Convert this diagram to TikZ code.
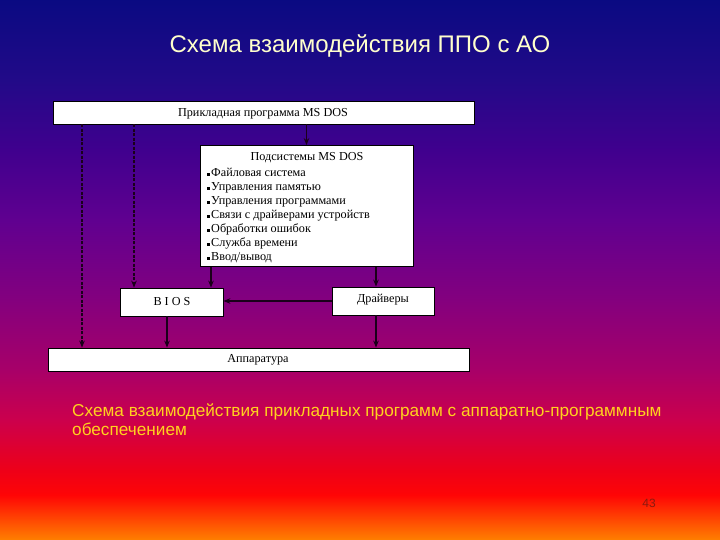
\documentclass[tikz,border=0pt]{standalone}
\usepackage{fontspec}
\setmainfont{Liberation Serif}
\newfontfamily\arialf{Liberation Sans}
\usetikzlibrary{arrows.meta}
\definecolor{c0}{HTML}{0A0A82}
\definecolor{c1}{HTML}{220A88}
\definecolor{c2}{HTML}{40008E}
\definecolor{c3}{HTML}{600090}
\definecolor{c4}{HTML}{84007E}
\definecolor{c5}{HTML}{A80068}
\definecolor{c6}{HTML}{CC004C}
\definecolor{c7}{HTML}{EE0018}
\definecolor{c8}{HTML}{FF0505}
\definecolor{c9}{HTML}{FF8200}
\definecolor{titlecol}{HTML}{FFFFCC}
\definecolor{capcol}{HTML}{FFD21E}
\definecolor{numcol}{HTML}{8A1A10}
\definecolor{linecol}{HTML}{1A001A}
\tikzset{
  box/.style={draw=black, line width=0.8pt, fill=white, inner sep=0pt},
  boxtext/.style={font=\fontsize{12.2}{14}\selectfont, inner sep=0pt},
  arr/.style={draw=linecol, line width=1.4pt, -{Stealth[length=7pt,width=5.5pt]}},
  darr/.style={arr, dash pattern=on 3pt off 1.5pt}
}
\newcommand{\sqb}{\rule[0.5pt]{2.8pt}{2.8pt}\hspace{1.2pt}}
\begin{document}
\begin{tikzpicture}[x=1pt,y=-1pt]
\useasboundingbox (0,0) rectangle (720,540);
% background
\shade[top color=c0,bottom color=c1] (0,-1) rectangle (720,81);
\shade[top color=c1,bottom color=c2] (0,80) rectangle (720,151);
\shade[top color=c2,bottom color=c3] (0,150) rectangle (720,221);
\shade[top color=c3,bottom color=c4] (0,220) rectangle (720,301);
\shade[top color=c4,bottom color=c5] (0,300) rectangle (720,371);
\shade[top color=c5,bottom color=c6] (0,370) rectangle (720,421);
\shade[top color=c6,bottom color=c7] (0,420) rectangle (720,471);
\shade[top color=c7,bottom color=c8] (0,470) rectangle (720,496);
\shade[top color=c8,bottom color=c9] (0,495) rectangle (720,541);
% title
\node[text=titlecol, font=\arialf\fontsize{24}{28}\selectfont] (title) at (360,46) {Схема взаимодействия ППО с АО};
% boxes
\node[box, minimum width=421pt, minimum height=23pt] (top) at (263.5,112.5) {};
\node[boxtext] (toptext) at (263,113.5) {Прикладная программа MS DOS};
\node[box, minimum width=213pt, minimum height=121pt] (sub) at (306.5,206) {};
\node[boxtext] (subtitle) at (307,158) {Подсистемы MS DOS};
\node[boxtext, anchor=north west, align=left] (sublist) at (207,167.5) {%
\sqb Файловая система\\
\sqb Управления памятью\\
\sqb Управления программами\\
\sqb Связи с драйверами устройств\\
\sqb Обработки ошибок\\
\sqb Служба времени\\
\sqb Ввод/вывод};
\node[box, minimum width=103pt, minimum height=28pt] (bios) at (171.5,302) {};
\node[boxtext] (biostext) at (172,302) {B I O S};
\node[box, minimum width=102pt, minimum height=28pt] (drv) at (383,301) {};
\node[boxtext] (drvtext) at (383,300) {Драйверы};
\node[box, minimum width=421pt, minimum height=23pt] (app) at (258.5,359.5) {};
\node[boxtext] (apptext) at (258,360) {Аппаратура};
% helper x positions
\coordinate (x1) at (82,0);
\coordinate (x2) at (134,0);
\coordinate (x3) at (211,0);
\coordinate (x4) at (376,0);
\coordinate (x5) at (167,0);
% connectors
\draw[darr] (top.south -| x1) -- (app.north -| x1);
\draw[darr] (top.south -| x2) -- (bios.north -| x2);
\draw[arr] (top.south -| sub.north) -- (sub.north);
\draw[arr] (sub.south -| x3) -- (bios.north -| x3);
\draw[arr] (sub.south -| x4) -- (drv.north -| x4);
\draw[arr] (drv.west) -- (bios.east |- drv.west);
\draw[arr] (bios.south -| x5) -- (app.north -| x5);
\draw[arr] (drv.south -| x4) -- (app.north -| x4);
% caption
\node[text=capcol, font=\arialf\fontsize{17.2}{19}\selectfont, anchor=north west, align=left, inner sep=0pt] (caption) at (72,404) {Схема взаимодействия прикладных программ с аппаратно-программным\\обеспечением};
\node[text=numcol, font=\arialf\fontsize{12}{14}\selectfont] (num) at (649,503) {43};
\end{tikzpicture}
\end{document}
